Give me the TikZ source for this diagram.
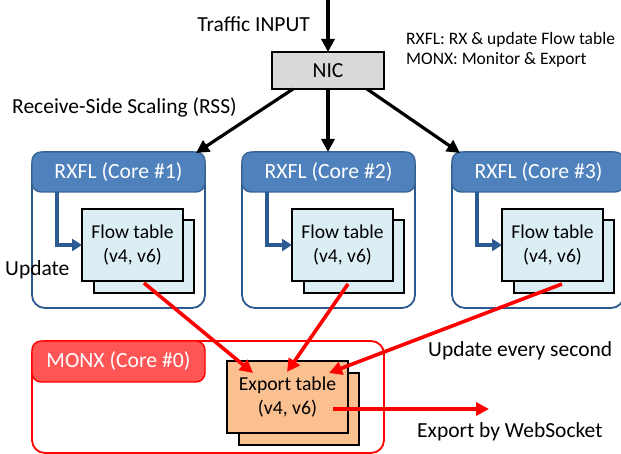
\documentclass[tikz,border=0pt]{standalone}
\usepackage{fontspec}
\setmainfont{Carlito}
\usetikzlibrary{arrows.meta,calc}
\definecolor{hdrblue}{HTML}{4F81BD}
\definecolor{hdrblueline}{HTML}{3A6496}
\definecolor{outblue}{HTML}{2B5A8E}
\definecolor{elbowblue}{HTML}{2C5A92}
\definecolor{ftfill}{HTML}{DAEEF3}
\definecolor{exfill}{HTML}{FAC090}
\definecolor{monxfill}{HTML}{FF5555}
\definecolor{nicfill}{HTML}{D9D9D9}
\tikzset{
  box/.style={rectangle,inner sep=0pt,outer sep=0pt},
  outerbox/.style={box,draw=outblue,line width=1.8pt,rounded corners=13pt},
  hdrbox/.style={box,draw=hdrblueline,fill=hdrblue,line width=1.4pt,rounded corners=9pt},
  hdrtext/.style={inner sep=0pt,text=white,font=\fontsize{21.7}{26}\selectfont},
  ftbox/.style={box,draw=black,fill=ftfill,line width=1.2pt,minimum width=101pt,minimum height=72pt,align=center,font=\fontsize{19.6}{24}\selectfont},
  exbox/.style={box,draw=black,fill=exfill,line width=1.2pt,minimum width=121pt,minimum height=72pt,align=center,font=\fontsize{19.7}{24.5}\selectfont},
  blackarrow/.style={line width=3.2pt,-{Triangle[length=13pt,width=13pt]}},
  redarrow/.style={draw=red,line width=3.6pt,-{Triangle[length=13pt,width=13pt]}},
  elbow/.style={draw=elbowblue,line width=3.2pt,-{Triangle[length=10pt,width=12pt]}},
  lbl/.style={inner sep=0pt,font=\fontsize{21.5}{26}\selectfont},
  small/.style={inner sep=0pt,font=\fontsize{17.5}{21}\selectfont},
}
\begin{document}
\begin{tikzpicture}[x=1pt,y=-1pt]
\useasboundingbox (0,0) rectangle (621,454);
\clip (0,0) rectangle (621,454);

% NIC
\node[box,draw=black,fill=nicfill,line width=2pt,minimum width=112pt,minimum height=37pt,font=\fontsize{21.5}{26}\selectfont] (nic) at (328,70.5) {NIC};
\coordinate (in) at (328,0);
\draw[blackarrow] (in) -- (nic.north);
\node[lbl,anchor=east] (traffic) at (310,24) {Traffic INPUT};
\node[small,anchor=west] (leg1) at (406,40) {RXFL: RX \& update Flow table};
\node[small,anchor=west] (leg2) at (406,60) {MONX: Monitor \& Export};
\node[lbl,anchor=west] (rss) at (12,107) {Receive-Side Scaling (RSS)};

% RXFL cores
\foreach \i/\dx/\w in {1/0/173,2/210/173,3/420/172}{
  \node[outerbox,minimum width=\w pt,minimum height=156pt] (out\i) at ({32+\dx+\w/2},230) {};
  \node[box,draw=black,fill=ftfill,line width=1.2pt,minimum width=100pt,minimum height=73pt] (ftb\i) at ({144+\dx},256.5) {};
  \node[ftbox] (ft\i) at ({132.5+\dx},245) {Flow table\\(v4, v6)};
  \node[hdrbox,minimum width=\w pt,minimum height=40pt] (hdr\i) at ({32+\dx+\w/2},172) {};
  \node[hdrtext] (hdrt\i) at ({118.5+\dx},172) {RXFL (Core \#\i)};
  \coordinate (el\i) at ({57+\dx},192);
  \draw[elbow] (el\i) |- (ft\i.west);
}
\node[lbl,anchor=west] (update) at (5,270) {Update};

% NIC -> cores
\coordinate (n1) at (293,89);
\coordinate (n3) at (367,89);
\coordinate (c1) at (196,153);
\coordinate (c3) at (460,153);
\draw[blackarrow] (n1) -- (c1);
\draw[blackarrow] (nic.south) -- (hdr2.north -| nic.south);
\draw[blackarrow] (n3) -- (c3);

% MONX
\node[box,draw=red,line width=1.8pt,rounded corners=13pt,minimum width=352pt,minimum height=112pt] (monx) at (208,397) {};
\node[box,draw=red,fill=monxfill,line width=1.4pt,rounded corners=9pt,minimum width=173pt,minimum height=41pt] (monxh) at (118.5,361.5) {};
\node[hdrtext] (monxt) at (118.5,361.5) {MONX (Core \#0)};
\node[box,draw=black,fill=exfill,line width=1.2pt,minimum width=120pt,minimum height=72pt] (exb) at (299,409) {};
\node[exbox] (ex) at (287.5,397) {Export table\\(v4, v6)};

% red arrows
\coordinate (s1) at (144,283);
\coordinate (s2) at (348,284);
\coordinate (s3) at (562,284);
\coordinate (t1) at (253,373);
\coordinate (t2) at (287,372);
\coordinate (t3) at (329,373);
\draw[redarrow] (s1) -- (t1);
\draw[redarrow] (s2) -- (t2);
\draw[redarrow] (s3) -- (t3);
\coordinate (es) at (333,409);
\coordinate (ee) at (489,409);
\draw[redarrow] (es) -- (ee);
\node[lbl,anchor=west] (every) at (428,351) {Update every second};
\node[lbl,anchor=west] (ws) at (417,432) {Export by WebSocket};
\end{tikzpicture}
\end{document}
